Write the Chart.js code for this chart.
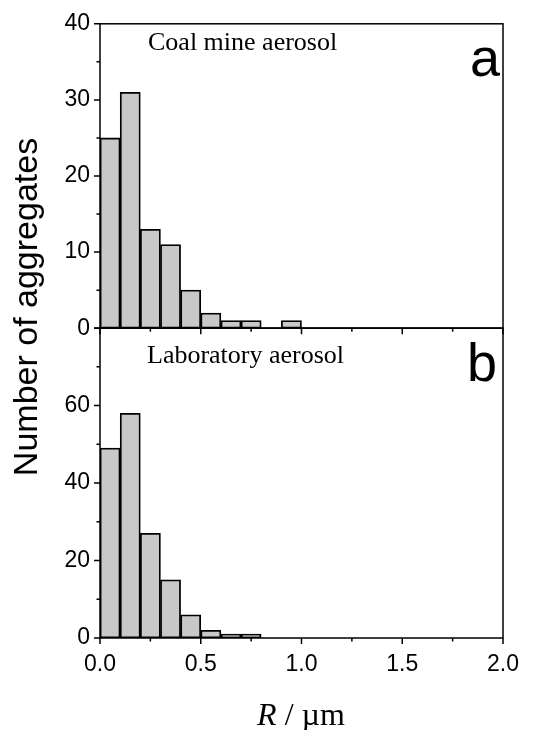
<!DOCTYPE html>
<html>
<head>
<meta charset="utf-8">
<script src="https://cdn.jsdelivr.net/npm/chart.js@4"></script>
<style>
  html, body { margin: 0; padding: 0; background: #fff; }
  #wrap { position: relative; width: 546px; height: 730px; overflow: hidden; background: #fff; }
  .box { position: absolute; left: 0; width: 546px; }
  .txt { position: absolute; white-space: nowrap; color: #000; line-height: 1; }
  .serif { font-family: 'Liberation Serif', 'Times New Roman', serif; }
  .sans { font-family: 'Liberation Sans', Arial, sans-serif; }
</style>
</head>
<body>
<div id="wrap">
  <div class="box" style="top:0;height:352px"><canvas id="chartA" width="546" height="352"></canvas></div>
  <div class="box" style="top:300px;height:430px"><canvas id="chartB" width="546" height="430"></canvas></div>

  <div class="txt sans" style="font-size:34px;width:400px;height:34px;text-align:center;left:-175.5px;top:290px;transform:rotate(-90deg)">Number of aggregates</div>
  <div class="txt serif" style="font-size:26px;left:148px;top:29px">Coal mine aerosol</div>
  <div class="txt sans" style="font-size:54px;right:46px;top:30px">a</div>
  <div class="txt serif" style="font-size:26px;left:147px;top:342px">Laboratory aerosol</div>
  <div class="txt sans" style="font-size:54px;right:49px;top:335px">b</div>
  <div class="txt serif" style="font-size:32px;width:200px;text-align:center;left:201px;top:698px"><i>R</i> / µm</div>
</div>

<script>
// bin centres (R, µm), bin width 0.1
const binCenters = [0.05, 0.15, 0.25, 0.35, 0.45, 0.55, 0.65, 0.75, 0.85, 0.95]
// counts per bin
const coalCounts = [25, 31, 13, 11, 5, 2, 1, 1, null, 1]
const labCounts = [49, 58, 27, 15, 6, 2, 1, 1]

// axis ticks
const xMajorTicks = [0, 0.5, 1.0, 1.5, 2.0]
const xMinorTicks = [0.25, 0.75, 1.25, 1.75]
const coalMajorTicks = [0, 10, 20, 30, 40]
const coalMinorTicks = [5, 15, 25, 35]
const labMajorTicks = [0, 20, 40, 60, 80]
const labMinorTicks = [10, 30, 50, 70]

const sansFont = "'Liberation Sans', Arial, sans-serif"

// frame + outward tick marks, drawn through the chart's own scales
function panelDecor(yMajor, yMinor) {
    return {
        id: 'panelDecor',
        afterDraw: function (chart) {
            const ctx = chart.ctx
            const a = chart.chartArea
            const x = chart.scales.x
            const y = chart.scales.y
            ctx.save()
            ctx.strokeStyle = '#000'
            ctx.lineWidth = 1.5
            ctx.strokeRect(a.left, a.top, a.right - a.left, a.bottom - a.top)
            ctx.beginPath()
            xMajorTicks.forEach(function (v) {
                const px = x.getPixelForValue(v)
                ctx.moveTo(px, a.bottom); ctx.lineTo(px, a.bottom + 6)
            })
            xMinorTicks.forEach(function (v) {
                const px = x.getPixelForValue(v)
                ctx.moveTo(px, a.bottom); ctx.lineTo(px, a.bottom + 3.5)
            })
            yMajor.forEach(function (v) {
                const py = y.getPixelForValue(v)
                ctx.moveTo(a.left - 6, py); ctx.lineTo(a.left, py)
            })
            yMinor.forEach(function (v) {
                const py = y.getPixelForValue(v)
                ctx.moveTo(a.left - 3.5, py); ctx.lineTo(a.left, py)
            })
            ctx.stroke()
            ctx.restore()
        }
    }
}

function histDataset(counts) {
    return {
        data: counts.map(function (c, i) { return { x: binCenters[i], y: c } }),
        backgroundColor: '#c8c8c8',
        borderColor: '#000',
        borderWidth: 1.8,
        borderSkipped: false,
        barPercentage: 1,
        categoryPercentage: 1,
    }
}

function yScale(max, step) {
    return {
        min: 0,
        max: max,
        ticks: {
            stepSize: step,
            color: '#000',
            padding: 10,
            font: { family: sansFont, size: 23 },
            callback: function (v) { return v === max && max === 80 ? '' : v }
        },
        grid: { display: false, drawTicks: false },
        border: { display: false },
        afterFit: function (s) { s.width = 100 }
    }
}

const commonPlugins = {
    legend: { display: false },
    tooltip: { enabled: false },
    title: { display: false }
}

new Chart(document.getElementById('chartA'), {
    type: 'bar',
    data: { datasets: [histDataset(coalCounts)] },
    options: {
        responsive: false,
        animation: false,
        layout: { padding: { top: 23, right: 43, bottom: 10, left: 0 } },
        plugins: commonPlugins,
        scales: {
            x: { type: 'linear', min: 0, max: 2, offset: false, display: false },
            y: yScale(40, 10)
        }
    },
    plugins: [panelDecor(coalMajorTicks, coalMinorTicks)]
})

new Chart(document.getElementById('chartB'), {
    type: 'bar',
    data: { datasets: [histDataset(labCounts)] },
    options: {
        responsive: false,
        animation: false,
        layout: { padding: { top: 28, right: 43, bottom: 0, left: 0 } },
        plugins: commonPlugins,
        scales: {
            x: {
                type: 'linear',
                min: 0,
                max: 2,
                offset: false,
                ticks: {
                    stepSize: 0.5,
                    color: '#000',
                    padding: 13,
                    maxRotation: 0,
                    font: { family: sansFont, size: 23 },
                    callback: function (v) { return Number(v).toFixed(1) }
                },
                grid: { display: false, drawTicks: false },
                border: { display: false },
                afterFit: function (s) { s.height = 92 }
            },
            y: yScale(80, 20)
        }
    },
    plugins: [panelDecor(labMajorTicks, labMinorTicks)]
})
</script>
</body>
</html>
